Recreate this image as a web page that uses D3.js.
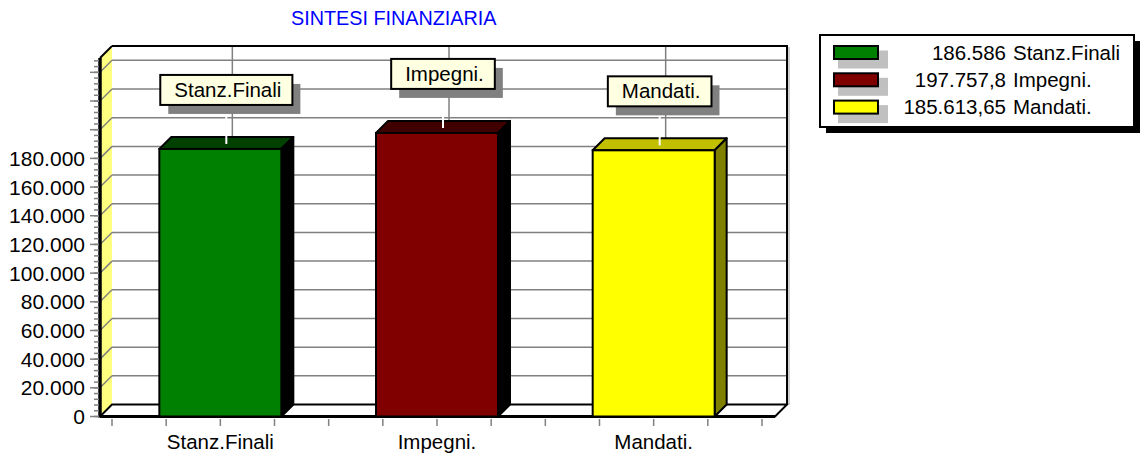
<!DOCTYPE html>
<html>
<meta charset="utf-8">
<style>
  body { margin: 0; background: #fff; }
  text { font-family: "Liberation Sans", Arial, sans-serif; }
  .grid { stroke: #808080; stroke-width: 1.5; fill: none; }
  .tick-mark { stroke: #808080; stroke-width: 1.5; }
</style>
<body>
<script src="https://d3js.org/d3.v7.min.js"></script>
<script>
// data
var categories = ["Stanz.Finali", "Impegni.", "Mandati."];
var values = [186586, 197757.8, 185613.65];
var frontColors = ["#008000", "#800000", "#ffff00"];
var topColors = ["#004000", "#400000", "#c0c000"];
var sideColors = ["#000000", "#000000", "#808000"];
var majorTicks = d3.range(0, 260000, 20000);
var labelledTicks = d3.range(0, 200000, 20000);
var minorTicks = d3.range(0, 252000, 4000);
var title = "SINTESI FINANZIARIA";

var width = 1144, height = 459;
var depthX = 12, depthY = 12;

var it = d3.formatLocale({decimal: ",", thousands: ".", grouping: [3], currency: ["", "€"]});
var fmt = it.format(",");

var svg = d3.select("body").append("svg")
    .attr("width", width)
    .attr("height", height);

var y = d3.scaleLinear().domain([0, 250000]).range([416.5, 58]);
var x = d3.scaleBand().domain(categories).range([112, 762]);
var xTick = d3.scaleLinear().domain([0, 12]).range([112, 762]);
var frontLeft = 100, frontRight = 775;
var barW = x.bandwidth() * 0.563;

// title
svg.append("text")
    .attr("x", 291).attr("y", 25)
    .style("font-size", "19.8px")
    .style("fill", "#0000ff")
    .text(title);

// left wall (yellow)
svg.append("polygon")
    .attr("points", [[frontLeft, y(0)], [frontLeft, y(250000)], [frontLeft + depthX, y(250000) - depthY], [frontLeft + depthX, y(0) - depthY]].join(" "))
    .style("fill", "#ffff80");

// floor
svg.append("polygon")
    .attr("points", [[frontLeft, y(0)], [frontRight, y(0)], [frontRight + depthX, y(0) - depthY], [frontLeft + depthX, y(0) - depthY]].join(" "))
    .style("fill", "#fff").style("stroke", "#000").style("stroke-width", 2);

// gridlines on back wall + left wall
var grid = svg.append("g");
majorTicks.filter(function(d) { return d > 0; }).forEach(function(d) {
  grid.append("line").attr("class", "grid")
      .attr("x1", frontLeft + depthX).attr("x2", frontRight + depthX)
      .attr("y1", y(d) - depthY).attr("y2", y(d) - depthY);
  grid.append("line").attr("class", "grid")
      .attr("x1", frontLeft).attr("x2", frontLeft + depthX)
      .attr("y1", y(d)).attr("y2", y(d) - depthY);
});
categories.forEach(function(c) {
  var cx = x(c) + x.bandwidth() / 2 + depthX;
  grid.append("line").attr("class", "grid")
      .attr("x1", cx).attr("x2", cx)
      .attr("y1", y(250000) - depthY).attr("y2", y(0) - depthY);
});

// back wall border
svg.append("path")
    .attr("d", "M" + (frontLeft + depthX) + "," + (y(250000) - depthY) +
               "H" + (frontRight + depthX) + "V" + (y(0) - depthY))
    .style("fill", "none").style("stroke", "#000").style("stroke-width", 2);
svg.append("line")
    .attr("x1", frontRight + depthX + 2).attr("x2", frontRight + depthX + 2)
    .attr("y1", y(250000) - depthY + 1).attr("y2", y(0) - depthY)
    .style("stroke", "#c0c0c0").style("stroke-width", 1.5);

// left wall edges
svg.append("line")
    .attr("x1", frontLeft).attr("x2", frontLeft + depthX)
    .attr("y1", y(250000)).attr("y2", y(250000) - depthY)
    .style("stroke", "#000").style("stroke-width", 2);
svg.append("line")
    .attr("x1", frontLeft).attr("x2", frontLeft)
    .attr("y1", y(250000)).attr("y2", y(0))
    .style("stroke", "#000").style("stroke-width", 3.5);
svg.append("line")
    .attr("x1", frontLeft).attr("x2", frontRight)
    .attr("y1", y(0)).attr("y2", y(0))
    .style("stroke", "#000").style("stroke-width", 3);

// y ticks
var yAxis = svg.append("g");
yAxis.selectAll("line.minor").data(minorTicks).enter().append("line")
    .attr("class", "tick-mark")
    .attr("x1", frontLeft - 6).attr("x2", frontLeft - 1)
    .attr("y1", function(d) { return y(d); }).attr("y2", function(d) { return y(d); });
yAxis.selectAll("line.major").data(majorTicks).enter().append("line")
    .attr("class", "tick-mark")
    .attr("x1", frontLeft - 10).attr("x2", frontLeft - 1)
    .attr("y1", function(d) { return y(d); }).attr("y2", function(d) { return y(d); });
yAxis.selectAll("text").data(labelledTicks).enter().append("text")
    .attr("x", 85).attr("y", function(d) { return y(d); })
    .attr("dy", "0.36em")
    .attr("text-anchor", "end")
    .style("font-size", "21px")
    .text(function(d) { return fmt(d); });

// x ticks
svg.append("g").selectAll("line").data(d3.range(13)).enter().append("line")
    .attr("class", "tick-mark")
    .attr("x1", function(d) { return xTick(d); }).attr("x2", function(d) { return xTick(d); })
    .attr("y1", 419).attr("y2", 426);
svg.append("g").selectAll("text").data(categories).enter().append("text")
    .attr("x", function(d) { return x(d) + x.bandwidth() / 2; })
    .attr("y", 449)
    .attr("text-anchor", "middle")
    .style("font-size", "20.5px")
    .text(function(d) { return d; });

// bars
var bars = svg.append("g").selectAll("g").data(values).enter().append("g");
bars.each(function(v, i) {
  var g = d3.select(this);
  var cx = x(categories[i]) + x.bandwidth() / 2;
  var x0 = cx - barW / 2, x1 = cx + barW / 2;
  var yt = y(v), yb = y(0);
  g.append("polygon")
      .attr("points", [[x0, yt], [x0 + depthX, yt - depthY], [x1 + depthX, yt - depthY], [x1, yt]].join(" "))
      .style("fill", topColors[i]).style("stroke", "#000").style("stroke-width", 2).style("stroke-linejoin", "round");
  g.append("polygon")
      .attr("points", [[x1, yt], [x1 + depthX, yt - depthY], [x1 + depthX, yb - depthY], [x1, yb]].join(" "))
      .style("fill", sideColors[i]).style("stroke", "#000").style("stroke-width", 2).style("stroke-linejoin", "round");
  g.append("rect")
      .attr("x", x0).attr("y", yt).attr("width", barW).attr("height", yb - yt)
      .style("fill", frontColors[i]).style("stroke", "#000").style("stroke-width", 2);
});

// data labels
var labels = svg.append("g").selectAll("g").data(values).enter().append("g");
labels.each(function(v, i) {
  var g = d3.select(this);
  var cx = x(categories[i]) + x.bandwidth() / 2 + depthX / 2;
  var yt = y(v);
  var boxBottom = yt - 44, boxTop = boxBottom - 30;
  g.append("line")
      .attr("x1", cx).attr("x2", cx)
      .attr("y1", boxBottom).attr("y2", yt - depthY / 2 + 1)
      .style("stroke", "#fff").style("stroke-width", 2);
  var shadow = g.append("rect").style("fill", "#808080");
  var box = g.append("rect").style("fill", "#ffffe1").style("stroke", "#000").style("stroke-width", 2);
  var t = g.append("text")
      .attr("y", boxTop + 22)
      .style("font-size", "20.5px")
      .text(categories[i]);
  var tw = t.node().getComputedTextLength();
  var bw = tw + 25, bx = cx - bw / 2;
  t.attr("x", bx + 14);
  box.attr("x", bx).attr("y", boxTop).attr("width", bw).attr("height", 30);
  shadow.attr("x", bx + 8).attr("y", boxTop + 9).attr("width", bw).attr("height", 30);
});

// legend
var legend = svg.append("g");
legend.append("rect").attr("x", 826).attr("y", 41).attr("width", 314).attr("height", 92).style("fill", "#000");
legend.append("rect").attr("x", 820).attr("y", 35).attr("width", 314).attr("height", 92)
    .style("fill", "#fff").style("stroke", "#000").style("stroke-width", 2);
values.forEach(function(v, i) {
  var cy = 52.5 + i * 27.3;
  legend.append("rect").attr("x", 838).attr("y", cy - 2).attr("width", 50).attr("height", 18).style("fill", "#c0c0c0");
  legend.append("rect").attr("x", 834).attr("y", cy - 6.5).attr("width", 44).attr("height", 13)
      .style("fill", frontColors[i]).style("stroke", "#000").style("stroke-width", 2);
  legend.append("text").attr("x", 1006).attr("y", cy).attr("dy", "0.36em")
      .attr("text-anchor", "end").style("font-size", "20.5px").text(fmt(v));
  legend.append("text").attr("x", 1013).attr("y", cy).attr("dy", "0.36em")
      .style("font-size", "20.5px").text(categories[i]);
});
</script>
</body>
</html>
